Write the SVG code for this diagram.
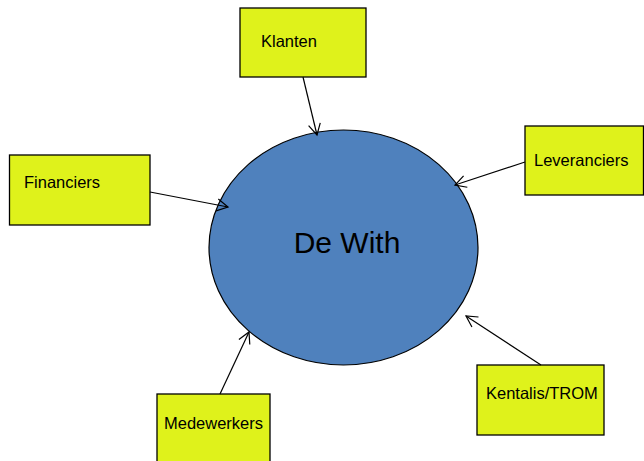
<svg xmlns="http://www.w3.org/2000/svg" width="644" height="461" viewBox="0 0 644 461">
<style>
.box{fill:#DFF21B;stroke:#000;stroke-width:1.3}
.lbl{font-family:"Liberation Sans",Arial,sans-serif;font-size:16.5px;fill:#000}
.con{stroke:#000;stroke-width:1.2;fill:none;marker-end:url(#arr)}
</style>
<defs>
<marker id="arr" markerUnits="userSpaceOnUse" markerWidth="14" markerHeight="14" refX="12" refY="7" orient="auto">
<path d="M1,1 L12,7 L1,13" fill="none" stroke="#000" stroke-width="1.2"/>
</marker>
</defs>
<rect width="644" height="461" fill="#fff"/>
<g id="dewith">
<ellipse cx="343.5" cy="247.5" rx="134.5" ry="117.5" fill="#4F81BD" stroke="#000" stroke-width="1.2"/>
<text x="347" y="253" text-anchor="middle" font-family="'Liberation Sans',Arial,sans-serif" font-size="30" fill="#000">De With</text>
</g>
<g id="klanten">
<rect class="box" x="240" y="8" width="126" height="69"/>
<text class="lbl" x="261" y="47">Klanten</text>
</g>
<g id="financiers">
<rect class="box" x="9.5" y="155" width="140.5" height="70"/>
<text class="lbl" x="24" y="188">Financiers</text>
</g>
<g id="leveranciers">
<rect class="box" x="525" y="126" width="118.5" height="69"/>
<text class="lbl" x="534" y="166">Leveranciers</text>
</g>
<g id="medewerkers">
<rect class="box" x="157" y="394" width="113" height="70"/>
<text class="lbl" x="164" y="429">Medewerkers</text>
</g>
<g id="kentalis">
<rect class="box" x="477" y="365" width="127" height="70"/>
<text class="lbl" x="486" y="399">Kentalis/TROM</text>
</g>
<g id="connectors">
<line class="con" x1="303" y1="77" x2="317" y2="135"/>
<line class="con" x1="150" y1="192" x2="228" y2="207"/>
<line class="con" x1="525" y1="162" x2="455" y2="185"/>
<line class="con" x1="220" y1="394" x2="249" y2="332"/>
<line class="con" x1="541" y1="365" x2="466" y2="316"/>
</g>
</svg>
